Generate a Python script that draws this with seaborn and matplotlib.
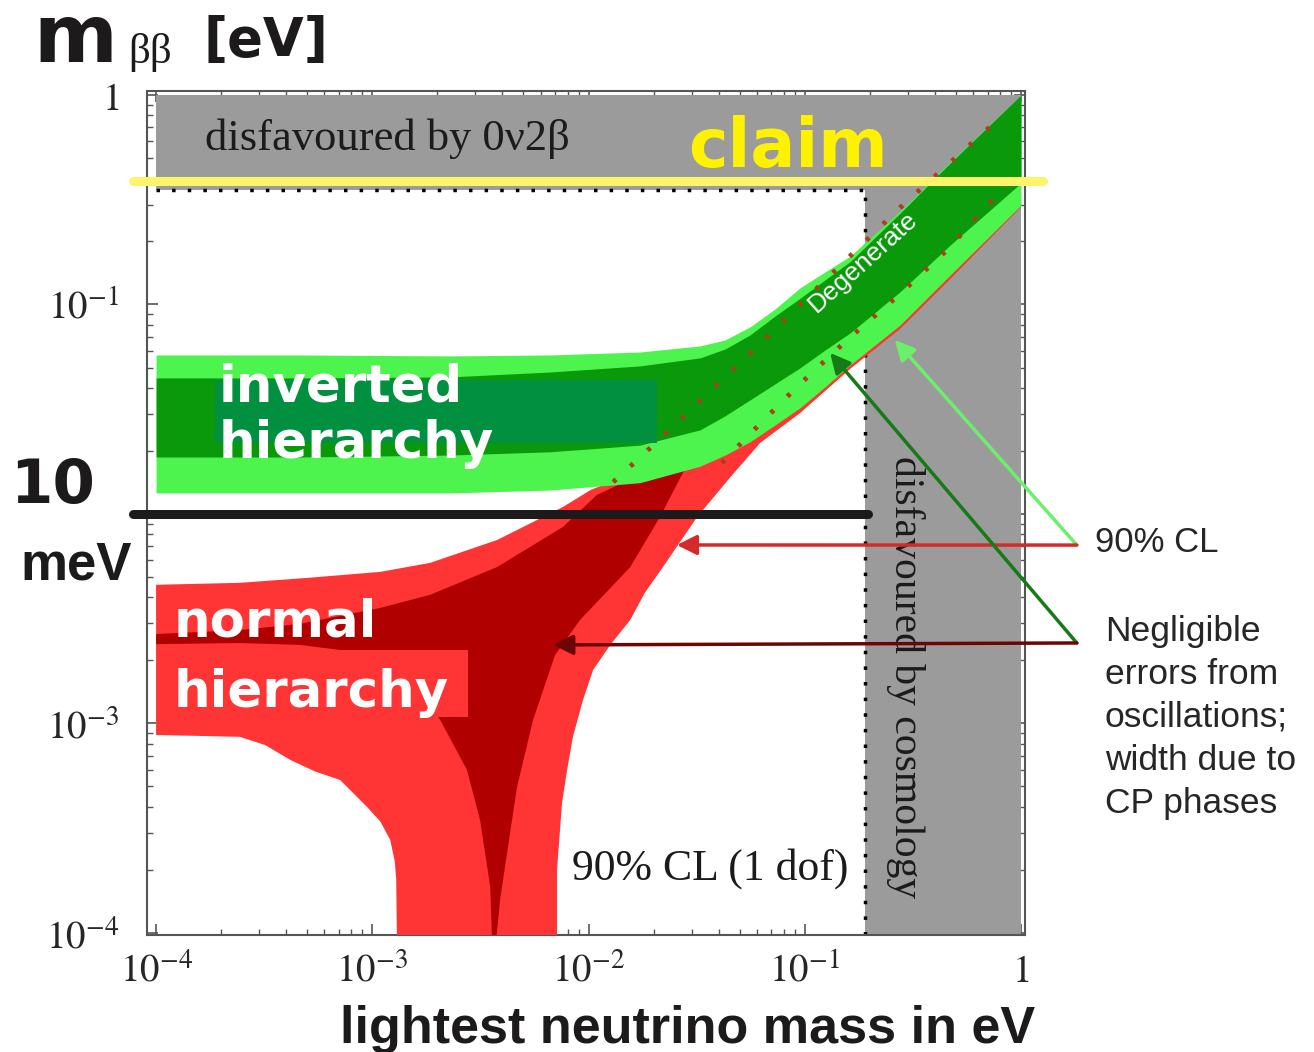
"""
m_bb vs lightest neutrino mass -- inverted / normal hierarchy bands
"""
import numpy as np
import pandas as pd
import matplotlib
matplotlib.use("Agg")
import matplotlib.pyplot as plt
import seaborn as sns

# ─── Data (eV) ─────────────────────────────────────────────────────────────────
# inverted hierarchy: 90% CL band and best-fit band
ih_m = [1e-4, 4.64e-4, 2.29e-3, 6.64e-3, 1.73e-2, 3.28e-2, 4.28e-2, 5.58e-2, 7.29e-2,
        9.51e-2, 0.124, 0.162, 0.276, 0.470, 1.0]
ih_cl_hi = [0.0574, 0.0574, 0.0568, 0.0574, 0.0593, 0.0634, 0.0677, 0.0781, 0.0952,
            0.120, 0.143, 0.170, 0.279, 0.479, 1.0]
ih_bf_hi = [0.0446, 0.0446, 0.0451, 0.0476, 0.0509, 0.0556, 0.0613, 0.0715, 0.0881,
            0.107, 0.131, 0.160, 0.273, 0.473, 1.0]
ih_bf_lo = [0.0187, 0.0187, 0.0191, 0.0198, 0.0213, 0.0252, 0.0294, 0.0350, 0.0418,
            0.0498, 0.0606, 0.0731, 0.115, 0.192, 0.380]
ih_cl_lo = [0.0126, 0.0126, 0.0126, 0.0130, 0.0141, 0.0169, 0.0191, 0.0221, 0.0266,
            0.0321, 0.0404, 0.0514, 0.0798, 0.138, 0.298]

# normal hierarchy, 90% CL region (outline)
nh_cl_m = [1e-4, 2.44e-4, 4.99e-4, 1.09e-3, 1.85e-3, 3.78e-3, 7.62e-3, 1.02e-2, 1.73e-2, 3.28e-2,
           9.51e-2, 0.276, 1.0,
           1.0, 0.470, 0.276, 0.162, 9.51e-2, 6.21e-2, 4.51e-2, 3.18e-2, 2.65e-2, 2.21e-2, 1.82e-2,
           1.56e-2, 1.26e-2, 1.05e-2, 9.42e-3, 8.47e-3, 7.96e-3, 7.54e-3, 7.15e-3, 7.15e-3,
           1.30e-3, 1.29e-3, 1.27e-3, 1.21e-3, 1.09e-3, 9.46e-4, 7.10e-4, 5.43e-4, 4.17e-4,
           3.19e-4, 2.44e-4, 1e-4]
nh_cl_v = [0.00459, 0.00469, 0.00495, 0.00529, 0.00584, 0.00751, 0.0108, 0.0130, 0.0162, 0.0207,
           0.0370, 0.0941, 0.315,
           0.292, 0.132, 0.0764, 0.0492, 0.0303, 0.0218, 0.0149, 0.00968, 0.00735, 0.00558, 0.00420,
           0.00312, 0.00237, 0.00180, 0.00129, 8.63e-4, 6.00e-4, 4.18e-4, 2.00e-4, 9e-5,
           9e-5, 1.79e-4, 2.20e-4, 2.78e-4, 3.40e-4, 3.99e-4, 5.37e-4, 5.90e-4, 6.70e-4,
           7.89e-4, 8.63e-4, 8.81e-4]

# normal hierarchy, best-fit region (outline)
nh_bf_m = [1e-4, 2.44e-4, 4.64e-4, 1.09e-3, 1.85e-3, 3.78e-3, 7.62e-3, 1.09e-2, 1.92e-2, 3.28e-2,
           2.73e-2, 2.14e-2, 1.56e-2, 9.14e-3, 7.00e-3, 5.54e-3, 4.67e-3, 4.20e-3, 3.90e-3, 3.73e-3,
           3.58e-3, 3.51e-3, 3.15e-3, 2.74e-3, 2.06e-3, 1.66e-3, 1.34e-3, 1.09e-3, 4.64e-4, 2.44e-4, 1e-4]
nh_bf_v = [0.00267, 0.00279, 0.00299, 0.00356, 0.00411, 0.00558, 0.00867, 0.0123, 0.0162, 0.0198,
           0.0157, 0.00968, 0.00558, 0.00312, 0.00212, 0.00104, 4.98e-4, 2.41e-4, 1.44e-4, 9e-5,
           9e-5, 1.66e-4, 3.46e-4, 6.00e-4, 1.04e-3, 1.45e-3, 1.84e-3, 2.12e-3, 2.37e-3, 2.42e-3, 2.39e-3]

# dotted lines inside the degenerate band
dot1_m = [0.0130, 0.0219, 0.0357, 0.0601, 0.0981, 0.276, 0.780]
dot1_v = [0.0142, 0.0233, 0.0378, 0.0627, 0.103, 0.290, 0.760]
dot2_m = [0.0414, 0.0570, 0.0920, 0.157, 0.267, 0.455, 0.957]
dot2_v = [0.0175, 0.0246, 0.0404, 0.0677, 0.109, 0.182, 0.424]

# limits
cosmo_bound = 0.19      # eV, disfavoured by cosmology
bb_bound = 0.35         # eV, disfavoured by 0v2b
claim_level = 0.39      # eV
mev_level = 0.01        # eV (10 meV)

# arrow tips (m, m_bb)
tip_cl_green = (0.261, 0.0677)
tip_bf_green = (0.131, 0.0587)
tip_cl_red = (0.0256, 0.00711)
tip_bf_red = (0.00686, 0.00237)

x_ticks = [1e-4, 1e-3, 1e-2, 1e-1, 1]
x_labels = ['$10^{-4}$', '$10^{-3}$', '$10^{-2}$', '$10^{-1}$', '$1$']
y_ticks = [1e-4, 1e-3, 1e-2, 1e-1, 1]
y_labels = ['$10^{-4}$', '$10^{-3}$', '', '$10^{-1}$', '$1$']

# ─── Style ─────────────────────────────────────────────────────────────────────
sns.set_style("ticks")
plt.rcParams['font.family'] = ['DejaVu Sans']
plt.rcParams['mathtext.fontset'] = 'stix'

GRAY = '#9b9b9b'
LGREEN = '#4ef44e'
DGREEN = '#0a990a'
LRED = '#ff3434'
DRED = '#b10000'
INK = '#1c1a1a'
W, H = 1314, 1052

fig = plt.figure(figsize=(W / 100, H / 100), dpi=100)
ax = fig.add_axes([147 / W, 1 - 935 / H, 878 / W, 844 / H])
ax.set_xscale('log')
ax.set_yscale('log')
ymin = 10 ** -4.01
ax.set_xlim(10 ** -4.042, 10 ** 0.0185)
ax.set_ylim(ymin, 10 ** 0.019)

# disfavoured regions
ax.fill_between([1e-4, 1], bb_bound, 1, color=GRAY, lw=0, zorder=1)
ax.fill_betweenx([ymin, 1], cosmo_bound, 1, color=GRAY, lw=0, zorder=1)
ax.plot([1e-4, cosmo_bound], [bb_bound, bb_bound], color='black', lw=2.5,
        ls=(0, (1, 3.5)), zorder=2)
ax.plot([cosmo_bound, cosmo_bound], [ymin, bb_bound], color='black', lw=2.5,
        ls=(0, (1, 3.5)), zorder=2)

# normal hierarchy
ax.fill(nh_cl_m, nh_cl_v, color=LRED, lw=0, zorder=3)
ax.fill(nh_bf_m, nh_bf_v, color=DRED, lw=0, zorder=4)

# inverted hierarchy
ax.fill_between(ih_m, ih_cl_lo, ih_cl_hi, color=LGREEN, lw=0, zorder=5)
ax.fill_between(ih_m, ih_bf_lo, ih_bf_hi, color=DGREEN, lw=0, zorder=6)

dots = pd.concat([
    pd.DataFrame({'m': dot1_m, 'mbb': dot1_v, 'line': 'a'}),
    pd.DataFrame({'m': dot2_m, 'mbb': dot2_v, 'line': 'b'}),
])
for _, d in dots.groupby('line'):
    sns.lineplot(data=d, x='m', y='mbb', ax=ax, sort=False, estimator=None,
                 color='#a8401c', lw=3.5, ls=(0, (0.8, 4)), zorder=7)

ax.text(0.186, 0.160, 'Degenerate', color='white', fontsize=19, rotation=42,
        ha='center', va='center', family='Liberation Sans', zorder=8)

# label boxes
ax.fill_between([1.87e-4, 0.0207], 0.0218, 0.0436, color='#00903f', lw=0, zorder=8)
ax.fill_between([1.10e-4, 2.77e-3], 0.00107, 0.00224, color=LRED, lw=0, zorder=8)
lab = dict(color='white', fontsize=37, fontweight='bold', zorder=9, va='baseline')
ax.text(1.94e-4, 0.0343, 'inverted', **lab)
ax.text(1.94e-4, 0.0185, 'hierarchy', **lab)
ax.text(1.20e-4, 0.00259, 'normal', **lab)
ax.text(1.20e-4, 0.00120, 'hierarchy', **lab)

# region texts
serif = dict(family='Liberation Serif', color=INK, zorder=9)
ax.text(1.69e-4, 0.546, 'disfavoured by 0ν2β', va='baseline', fontsize=32, **serif)
ax.text(0.291, 0.00167, 'disfavoured by cosmology', rotation=-90,
        ha='center', va='center', fontsize=30, **serif)
ax.text(8.4e-3, 2.04e-4, '90% CL (1 dof)', va='center', fontsize=31.5, **serif)

# 10 meV and claim lines
ax.axhline(mev_level, xmin=-0.016, xmax=0.821, color=INK, lw=6.5,
           clip_on=False, zorder=10)
ax.axhline(claim_level, xmin=-0.016, xmax=1.0205, color='#fdf46c', lw=6.5,
           clip_on=False, zorder=10)
ax.text(0.0288, 0.453, 'claim', color='#fff200', fontsize=48, fontweight='bold',
        va='baseline', zorder=11)

# arrows to the side notes
def arrow(tip, tail, color, lw):
    ax.annotate('', xy=tip, xycoords='data', xytext=tail, textcoords='axes fraction',
                arrowprops=dict(arrowstyle='-|>', color=color, lw=lw, mutation_scale=30,
                                shrinkA=0, shrinkB=0),
                annotation_clip=False, zorder=12)

arrow(tip_cl_green, (1.059, 0.462), '#6cf06c', 2.5)
arrow(tip_cl_red, (1.059, 0.462), '#d42a2a', 2.5)
arrow(tip_bf_green, (1.059, 0.346), '#167a16', 2.5)
arrow(tip_bf_red, (1.059, 0.346), '#6a0606', 2.5)

# axes, ticks
ax.set_xticks(x_ticks)
ax.set_xticklabels(x_labels)
ax.set_yticks(y_ticks)
ax.set_yticklabels(y_labels)
ax.tick_params(which='both', direction='in', top=True, right=True, color='#555555')
ax.tick_params(which='major', length=8, width=1.2, labelsize=28)
ax.tick_params(which='minor', length=4, width=1.0)
ax.tick_params(axis='x', pad=12)
ax.tick_params(axis='y', pad=20)
for s in ax.spines.values():
    s.set_color('#555555')
    s.set_linewidth(1.5)
ax.set_xlabel('')
ax.set_ylabel('')

# figure-level labels
fig.text(33 / W, 1 - 62 / H, 'm', fontsize=58, fontweight='bold', color=INK, va='baseline')
fig.text(128 / W, 1 - 63 / H, 'ββ', fontsize=31, family='Liberation Serif', color=INK,
         va='baseline')
fig.text(203 / W, 1 - 56 / H, '[eV]', fontsize=38, fontweight='bold', color=INK,
         va='baseline')
fig.text(10 / W, 1 - 503 / H, '10', fontsize=44, fontweight='bold', color=INK,
         va='baseline')
fig.text(20 / W, 1 - 580 / H, 'meV', fontsize=38, fontweight='bold', color=INK,
         family='Liberation Sans', va='baseline')
fig.text(340 / W, 1 - 1043 / H, 'lightest neutrino mass in eV', fontsize=37.5, fontweight='bold',
         color=INK, family='Liberation Sans', va='baseline')
fig.text(1095 / W, 1 - 543 / H, '90% CL', fontsize=25, family='Liberation Sans', va='center')
fig.text(1105 / W, 1 - 615 / H,
         'Negligible\nerrors from\noscillations;\nwidth due to\nCP phases',
         fontsize=25.5, family='Liberation Sans', va='top', linespacing=1.38)

fig.savefig('out.png', dpi=100, facecolor='white')
